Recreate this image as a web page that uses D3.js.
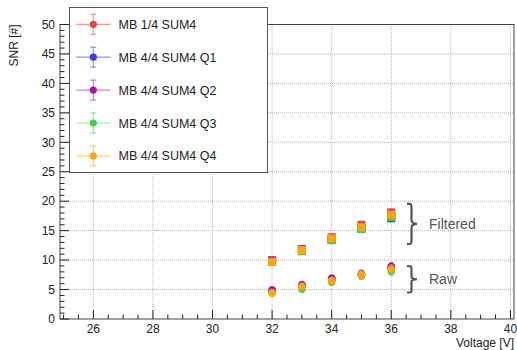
<!DOCTYPE html>
<html>
<head>
<meta charset="utf-8">
<script src="https://cdn.jsdelivr.net/npm/d3@7"></script>
<style>
  body { margin: 0; background: #fff; }
  svg { display: block; font-family: "Liberation Sans", Arial, sans-serif; }
</style>
</head>
<body>
<div id="chart"></div>
<script>
// SNR vs bias voltage, filtered and raw
const seriesNames = ["MB 1/4 SUM4", "MB 4/4 SUM4 Q1", "MB 4/4 SUM4 Q2", "MB 4/4 SUM4 Q3", "MB 4/4 SUM4 Q4"];
const seriesColors = ["#e2464a", "#3d3ddd", "#a31ca3", "#44d044", "#ffa510"];
const voltages = [32, 33, 34, 35, 36];

// filtered SNR, one array per series (same order as seriesNames)
const filteredSum4 = [10.0, 11.9, 13.9, 16.0, 18.1];
const filteredQ1   = [9.8, 11.6, 13.4, 15.3, 17.1];
const filteredQ2   = [9.9, 11.8, 13.6, 15.6, 17.5];
const filteredQ3   = [9.7, 11.5, 13.4, 15.3, 17.3];
const filteredQ4   = [9.7, 11.7, 13.7, 15.6, 17.7];

// raw SNR
const rawSum4 = [4.7, 5.6, 6.6, 7.6, 8.6];
const rawQ1   = [4.8, 5.7, 6.8, 7.5, 8.8];
const rawQ2   = [4.9, 5.8, 6.9, 7.6, 8.9];
const rawQ3   = [4.4, 5.1, 6.3, 7.4, 8.1];
const rawQ4   = [4.4, 5.5, 6.5, 7.5, 8.5];
const rawErr  = [0.6, 0.6, 0.6, 0.7, 0.7];
const filtErr = [0.3, 0.3, 0.3, 0.4, 0.4];

const xMajor = [26, 28, 30, 32, 34, 36, 38, 40];
const yMajor = [0, 5, 10, 15, 20, 25, 30, 35, 40, 45, 50];
const annotations = ["Filtered", "Raw"];

(function () {
  const W = 517, H = 350;
  const filtered = [filteredSum4, filteredQ1, filteredQ2, filteredQ3, filteredQ4];
  const raw = [rawSum4, rawQ1, rawQ2, rawQ3, rawQ4];

  const svg = d3.select("#chart").append("svg")
    .attr("width", W).attr("height", H);

  const x = d3.scaleLinear().domain([24.88, 40.12]).range([60, 514]);
  const y = d3.scaleLinear().domain([0, 50]).range([319, 24.5]);
  const [x0, x1] = x.range(), [y0, y1] = y.range();

  // grid
  xMajor.forEach(v => {
    svg.append("line")
      .attr("x1", x(v)).attr("x2", x(v)).attr("y1", y0).attr("y2", y1)
      .attr("stroke", "#b4b4b4").attr("stroke-width", 1).attr("stroke-dasharray", "1 1");
  });
  yMajor.slice(1, -1).forEach(v => {
    svg.append("line")
      .attr("x1", x0).attr("x2", x1).attr("y1", y(v)).attr("y2", y(v))
      .attr("stroke", "#b4b4b4").attr("stroke-width", 1).attr("stroke-dasharray", "1 1");
  });

  // frame
  svg.append("rect")
    .attr("x", x0).attr("y", y1).attr("width", x1 - x0).attr("height", y0 - y1)
    .attr("fill", "none").attr("stroke", "#444").attr("stroke-width", 1);

  // x ticks (inside)
  d3.range(25, 40.01, 0.5).forEach(v => {
    const major = xMajor.includes(v);
    svg.append("line")
      .attr("x1", x(v)).attr("x2", x(v)).attr("y1", y0).attr("y2", y0 - (major ? 9 : 4.5))
      .attr("stroke", "#222");
  });
  xMajor.forEach(v => {
    svg.append("text")
      .attr("x", x(v)).attr("y", 333)
      .attr("text-anchor", "middle").attr("font-size", "12px").attr("fill", "#222")
      .text(v);
  });

  // y ticks (inside)
  d3.range(0, 50.01, 1).forEach(v => {
    const major = yMajor.includes(v);
    svg.append("line")
      .attr("x1", x0).attr("x2", x0 + (major ? 9 : 4.5)).attr("y1", y(v)).attr("y2", y(v))
      .attr("stroke", "#222");
  });
  yMajor.forEach(v => {
    svg.append("text")
      .attr("x", 55).attr("y", y(v)).attr("dy", "0.35em")
      .attr("text-anchor", "end").attr("font-size", "12px").attr("fill", "#222")
      .text(v);
  });

  // axis titles
  svg.append("text")
    .attr("x", 514).attr("y", 347)
    .attr("text-anchor", "end").attr("font-size", "12px").attr("fill", "#222")
    .text("Voltage [V]");
  svg.append("text")
    .attr("transform", `translate(18,${y1}) rotate(-90)`)
    .attr("text-anchor", "end").attr("font-size", "12px").attr("fill", "#222")
    .text("SNR [#]");

  // data: filtered (squares) and raw (circles)
  filtered.forEach((vals, i) => {
    const c = seriesColors[i];
    vals.forEach((v, j) => {
      const cx = x(voltages[j]);
      svg.append("line")
        .attr("x1", cx).attr("x2", cx)
        .attr("y1", y(v - filtErr[j])).attr("y2", y(v + filtErr[j]))
        .attr("stroke", c).attr("stroke-opacity", 0.6);
      svg.append("rect")
        .attr("x", cx - 4).attr("y", y(v) - 4).attr("width", 8).attr("height", 8)
        .attr("fill", c);
    });
  });
  raw.forEach((vals, i) => {
    const c = seriesColors[i];
    vals.forEach((v, j) => {
      const cx = x(voltages[j]);
      svg.append("line")
        .attr("x1", cx).attr("x2", cx)
        .attr("y1", y(v - rawErr[j])).attr("y2", y(v + rawErr[j]))
        .attr("stroke", c).attr("stroke-opacity", 0.6).attr("stroke-width", 1.2);
      [v - rawErr[j], v + rawErr[j]].forEach(e =>
        svg.append("line")
          .attr("x1", cx - 2).attr("x2", cx + 2).attr("y1", y(e)).attr("y2", y(e))
          .attr("stroke", c).attr("stroke-opacity", 0.6));
      svg.append("circle")
        .attr("cx", cx).attr("cy", y(v)).attr("r", 3.8)
        .attr("fill", c);
    });
  });

  // braces + labels
  function brace(xb, ya, yb, w) {
    const h = yb - ya, ym = (ya + yb) / 2, xm = xb + w * 0.45;
    return `M${xb},${ya} C${xm},${ya} ${xm},${ya} ${xm},${ya + h * 0.12}` +
      ` L${xm},${ym - h * 0.1} C${xm},${ym - h * 0.02} ${xb + w * 0.7},${ym} ${xb + w},${ym}` +
      ` C${xb + w * 0.7},${ym} ${xm},${ym + h * 0.02} ${xm},${ym + h * 0.1}` +
      ` L${xm},${yb - h * 0.12} C${xm},${yb} ${xm},${yb} ${xb},${yb}`;
  }
  const braceTop = [[19.6, 12.7], [9.0, 4.5]];
  braceTop.forEach(([a, b], k) => {
    svg.append("path")
      .attr("d", brace(407, y(a), y(b), 10))
      .attr("fill", "none").attr("stroke", "#555").attr("stroke-width", 2.2);
    svg.append("text")
      .attr("x", 429).attr("y", y((a + b) / 2)).attr("dy", "0.35em")
      .attr("font-size", "14px").attr("fill", "#555")
      .text(annotations[k]);
  });

  // legend
  const lg = svg.append("g");
  lg.append("rect")
    .attr("x", 69.5).attr("y", 7.5).attr("width", 198).attr("height", 165)
    .attr("fill", "#fff").attr("stroke", "#555").attr("stroke-width", 1);
  seriesNames.forEach((name, i) => {
    const ly = 24.3 + i * 32.9, lx = 93.3, c = seriesColors[i];
    lg.append("line").attr("x1", lx - 17).attr("x2", lx + 17).attr("y1", ly).attr("y2", ly)
      .attr("stroke", c).attr("stroke-opacity", 0.55).attr("stroke-width", 1.2);
    lg.append("line").attr("x1", lx).attr("x2", lx).attr("y1", ly - 10).attr("y2", ly + 10)
      .attr("stroke", c).attr("stroke-opacity", 0.55).attr("stroke-width", 1.2);
    [ly - 10, ly + 10].forEach(e =>
      lg.append("line").attr("x1", lx - 3).attr("x2", lx + 3).attr("y1", e).attr("y2", e)
        .attr("stroke", c).attr("stroke-opacity", 0.55).attr("stroke-width", 1.2));
    lg.append("circle").attr("cx", lx).attr("cy", ly).attr("r", 3.6).attr("fill", c);
    lg.append("text")
      .attr("x", 118.5).attr("y", ly).attr("dy", "0.36em")
      .attr("font-size", "12.5px").attr("fill", "#222")
      .text(name);
  });
})();
</script>
</body>
</html>
